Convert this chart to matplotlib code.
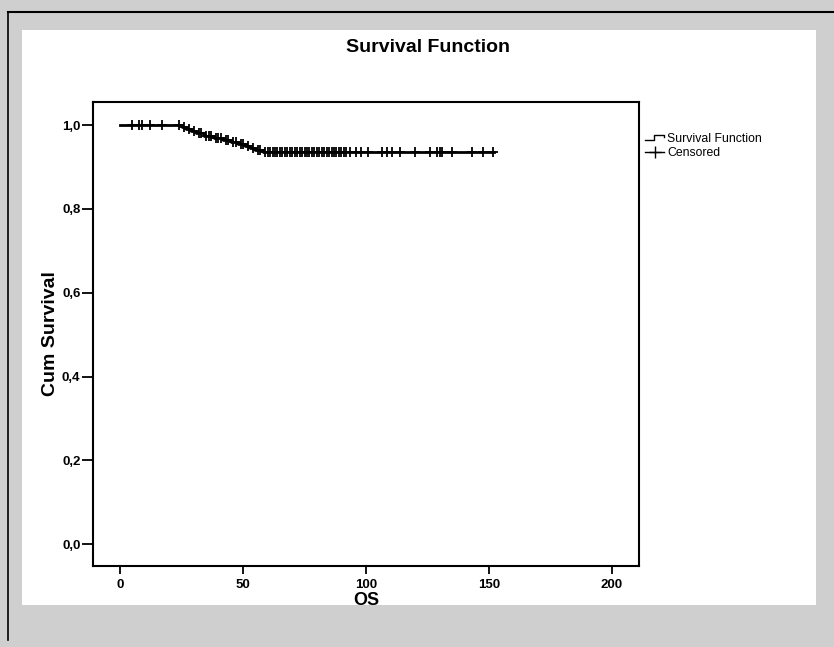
import numpy as np
import matplotlib
matplotlib.use("Agg")
import matplotlib.pyplot as plt
from matplotlib.patches import Rectangle
from matplotlib.lines import Line2D
from matplotlib.legend_handler import HandlerBase

# ---- data ----
event_times = [0, 25, 27, 29, 31, 34, 38, 42, 45, 48, 51, 53, 55, 58]
survival    = [1.0, 0.995, 0.990, 0.985, 0.980, 0.975, 0.970, 0.965, 0.960,
               0.955, 0.950, 0.945, 0.940, 0.935]
end_time = 152

censored_times = [5, 7.5, 9, 12, 17,
                  24, 26, 28, 30, 32, 33, 35, 36, 37, 39, 40, 41, 43, 44, 46,
                  47, 49, 50, 52, 54, 56, 57,
                  59, 60, 61, 62, 63, 64, 65, 66, 67, 68, 69, 70, 71, 72, 73,
                  74, 75, 76, 77, 78, 79, 80, 81, 82, 83, 84, 85, 86, 87, 88,
                  89, 90, 91, 92,
                  93.5, 96, 98, 101, 106.5, 108.5, 110.6, 113.8, 119.9, 126,
                  129, 130, 131, 135, 143, 147.5, 151.6]

x_ticks = [0, 50, 100, 150, 200]
y_ticks = [0.0, 0.2, 0.4, 0.6, 0.8, 1.0]
y_tick_labels = ["0,0", "0,2", "0,4", "0,6", "0,8", "1,0"]

plt.rcParams['font.family'] = ['Liberation Sans', 'DejaVu Sans']

fig = plt.figure(figsize=(8.34, 6.47), dpi=100)
fig.patch.set_facecolor('#cfcfcf')
# white inner panel
fig.patches.append(Rectangle((22/834, 1-605/647), (816-22)/834, (605-30)/647,
                             transform=fig.transFigure, facecolor='white',
                             edgecolor='none', zorder=-10))
# scan frame lines
fig.lines.append(Line2D([8/834, 1], [1-12/647, 1-12/647], transform=fig.transFigure,
                        color='black', lw=1.5))
fig.lines.append(Line2D([8/834, 8/834], [1-12/647, 1-640/647], transform=fig.transFigure,
                        color='black', lw=1.2))

ax = fig.add_axes([93/834, 1-566/647, (639-93)/834, (566-102)/647])
ax.set_zorder(5)
ax.set_facecolor('white')

# step curve
xs = list(event_times) + [end_time]
ys = list(survival) + [survival[-1]]
ax.step(xs, ys, where='post', color='black', lw=2.0, zorder=3)

# censored marks placed on the curve
et = np.array(event_times)
sv = np.array(survival)
ct = np.array(censored_times)
idx = np.searchsorted(et, ct, side='right') - 1
cy = sv[idx]
ax.plot(ct, cy, linestyle='none', marker='+', markersize=7, mew=1.3,
        color='black', zorder=4)

ax.set_xlim(-11, 211)
ax.set_ylim(-0.052, 1.055)
ax.set_xticks(x_ticks)
ax.set_xticklabels([str(v) for v in x_ticks])
ax.set_yticks(y_ticks)
ax.set_yticklabels(y_tick_labels)
for s in ax.spines.values():
    s.set_linewidth(1.5)
    s.set_color('black')
ax.tick_params(axis='y', direction='out', length=8, width=1.3, labelsize=9.5, pad=1)
ax.tick_params(axis='x', direction='out', length=6, width=1.3, labelsize=9.5, pad=3)
for lab in ax.get_xticklabels() + ax.get_yticklabels():
    lab.set_fontweight('bold')

ax.set_xlabel('OS', fontsize=13, fontweight='bold', labelpad=1)
ax.set_ylabel('Cum Survival', fontsize=14, fontweight='bold', labelpad=2)
fig.text(428/834, 1-48/647, 'Survival Function', ha='center', va='center',
         fontsize=14, fontweight='bold')


class StepHandler(HandlerBase):
    def create_artists(self, legend, orig_handle, xdescent, ydescent,
                       width, height, fontsize, trans):
        w, h = width, height
        x = [0 - xdescent, 0.45 * w - xdescent, 0.45 * w - xdescent,
             w - xdescent, w - xdescent]
        y = [0.25 * h - ydescent, 0.25 * h - ydescent, 0.85 * h - ydescent,
             0.85 * h - ydescent, 0.6 * h - ydescent]
        ln = Line2D(x, y, color='black', lw=1.0, transform=trans)
        return [ln]


h1 = Line2D([], [], color='black', lw=1.0)
h2 = Line2D([], [], color='black', lw=1.0, marker='+', markersize=8)
fig.legend([h1, h2], ['Survival Function', 'Censored'],
           handler_map={h1: StepHandler()},
           loc='upper left', bbox_to_anchor=(640/834, 1-128/647),
           frameon=False, fontsize=8.8, handlelength=1.6, handletextpad=0.2,
           labelspacing=0.2, borderaxespad=0)

fig.savefig('out.png', dpi=100, facecolor=fig.get_facecolor())
